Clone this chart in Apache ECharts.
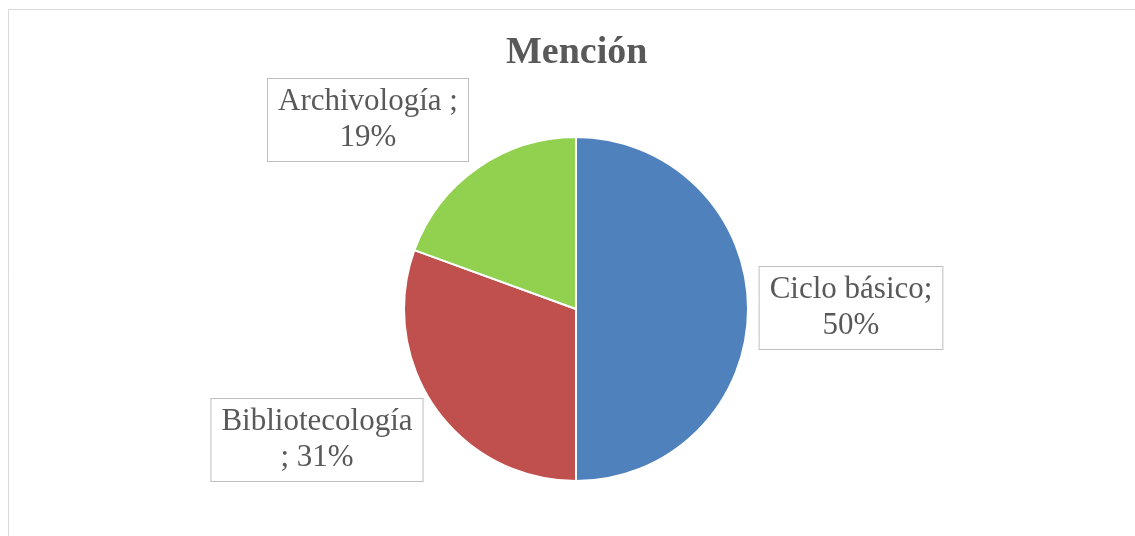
<!DOCTYPE html>
<html>
<head>
<meta charset="utf-8">
<script src="https://cdn.jsdelivr.net/npm/echarts@6/dist/echarts.min.js"></script>
<style>
  html, body { margin: 0; padding: 0; background: #fff; }
  #chart { width: 1135px; height: 536px; }
</style>
</head>
<body>
<div id="chart"></div>
<script>
// datos del gráfico
const categories = ['Ciclo básico', 'Bibliotecología', 'Archivología'];
const values = [36, 22, 14];
const colors = ['#4F81BD', '#C0504D', '#92D050'];
// formato de cada etiqueta (como en el original)
const labelPatterns = ['{b};\n{v}%', '{b}\n; {v}%', '{b} ;\n{v}%'];
// posición del centro de cada caja de etiqueta
const labelSpots = [[851, 308], [317, 440], [368, 120]];

const chart = echarts.init(document.getElementById('chart'));

const option = {
  backgroundColor: '#fff',
  animation: false,
  title: {
    text: 'Mención',
    left: 501,
    top: 29,
    textStyle: {
      fontFamily: 'Liberation Serif, Times New Roman, serif',
      fontSize: 38,
      fontWeight: 'bold',
      color: '#595959'
    }
  },
  graphic: [{
    type: 'rect',
    shape: { x: 8.5, y: 9.5, width: 1300, height: 700 },
    style: { fill: 'none', stroke: '#d9d9d9', lineWidth: 1 },
    silent: true
  }],
  series: [{
    type: 'pie',
    center: [576, 309],
    radius: 172,
    startAngle: 90,
    clockwise: true,
    itemStyle: { borderColor: '#fff', borderWidth: 2 },
    labelLine: { show: false },
    label: {
      show: true,
      position: 'outside',
      formatter: p => labelPatterns[p.dataIndex].replace('{b}', p.name).replace('{v}', Math.round(p.percent)),
      fontFamily: 'Liberation Serif, Times New Roman, serif',
      fontSize: 31,
      lineHeight: 36,
      color: '#595959',
      align: 'center',
      backgroundColor: '#fff',
      borderColor: '#bfbfbf',
      borderWidth: 1,
      padding: [5, 10, 5, 10]
    },
    labelLayout: p => ({
      x: labelSpots[p.dataIndex][0],
      y: labelSpots[p.dataIndex][1],
      align: 'center',
      verticalAlign: 'middle'
    }),
    emphasis: { disabled: true },
    data: categories.map((c, i) => ({ name: c, value: values[i], itemStyle: { color: colors[i] } }))
  }]
};

chart.setOption(option);
</script>
</body>
</html>
